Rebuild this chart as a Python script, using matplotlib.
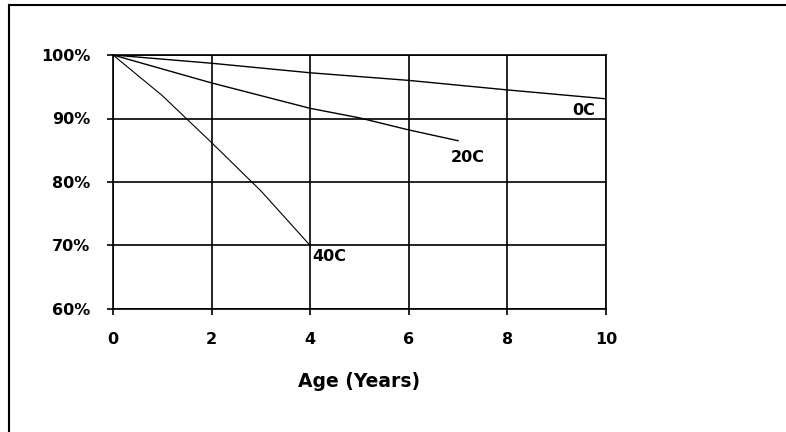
import matplotlib.pyplot as plt
from matplotlib.lines import Line2D
from matplotlib.ticker import FuncFormatter

# capacity retention vs age
years_0c = [0, 2, 4, 6, 8, 10]
cap_0c = [100, 98.7, 97.2, 96.0, 94.5, 93.1]

years_20c = [0, 2, 4, 5, 6, 7]
cap_20c = [100, 95.6, 91.6, 90.1, 88.2, 86.5]

years_40c = [0, 1, 2, 3, 4]
cap_40c = [100, 93.6, 86.2, 78.6, 70]

x_ticks = [0, 2, 4, 6, 8, 10]
y_ticks = [60, 70, 80, 90, 100]

plt.rcParams['font.family'] = ['DejaVu Sans']

fig = plt.figure(figsize=(7.86, 4.32), dpi=100)
W, H = 786, 432
# axes from x=113..606 px, y=55..309 px
ax = fig.add_axes([113 / W, 1 - 309 / H, (606 - 113) / W, (309 - 55) / H])

ax.plot(years_0c, cap_0c, color='black', lw=1.0)
ax.plot(years_20c, cap_20c, color='black', lw=1.0)
ax.plot(years_40c, cap_40c, color='black', lw=0.8)

ax.set_xlim(0, 10)
ax.set_ylim(60, 100)
ax.set_xticks(x_ticks)
ax.set_yticks(y_ticks)
ax.yaxis.set_major_formatter(FuncFormatter(lambda v, p: f'{v:.0f}%'))
ax.grid(True, color='black', lw=1.2)
ax.set_axisbelow(True)
for s in ax.spines.values():
    s.set_color('black')
    s.set_linewidth(1.2)
ax.tick_params(direction='out', length=4.5, width=1.2, color='black',
               labelsize=11.5)
ax.tick_params(axis='y', pad=12)
ax.tick_params(axis='x', pad=12)
for lbl in ax.get_xticklabels() + ax.get_yticklabels():
    lbl.set_fontweight('bold')

ax.set_xlabel('Age (Years)', fontsize=13.5, fontweight='bold', labelpad=18)

ax.text(9.55, 91.3, '0C', fontsize=11.5, fontweight='bold', ha='center', va='center')
ax.text(7.2, 83.8, '20C', fontsize=11.5, fontweight='bold', ha='center', va='center')
ax.text(4.05, 68.3, '40C', fontsize=11.5, fontweight='bold', ha='left', va='center')

# outer frame: only left and top edges are visible
fig.add_artist(Line2D([8.5 / W, 8.5 / W], [0, 1 - 5 / H], color='black', lw=1.5))
fig.add_artist(Line2D([8.5 / W, 1], [1 - 5 / H, 1 - 5 / H], color='black', lw=1.5))

fig.savefig('out.png', dpi=100)
